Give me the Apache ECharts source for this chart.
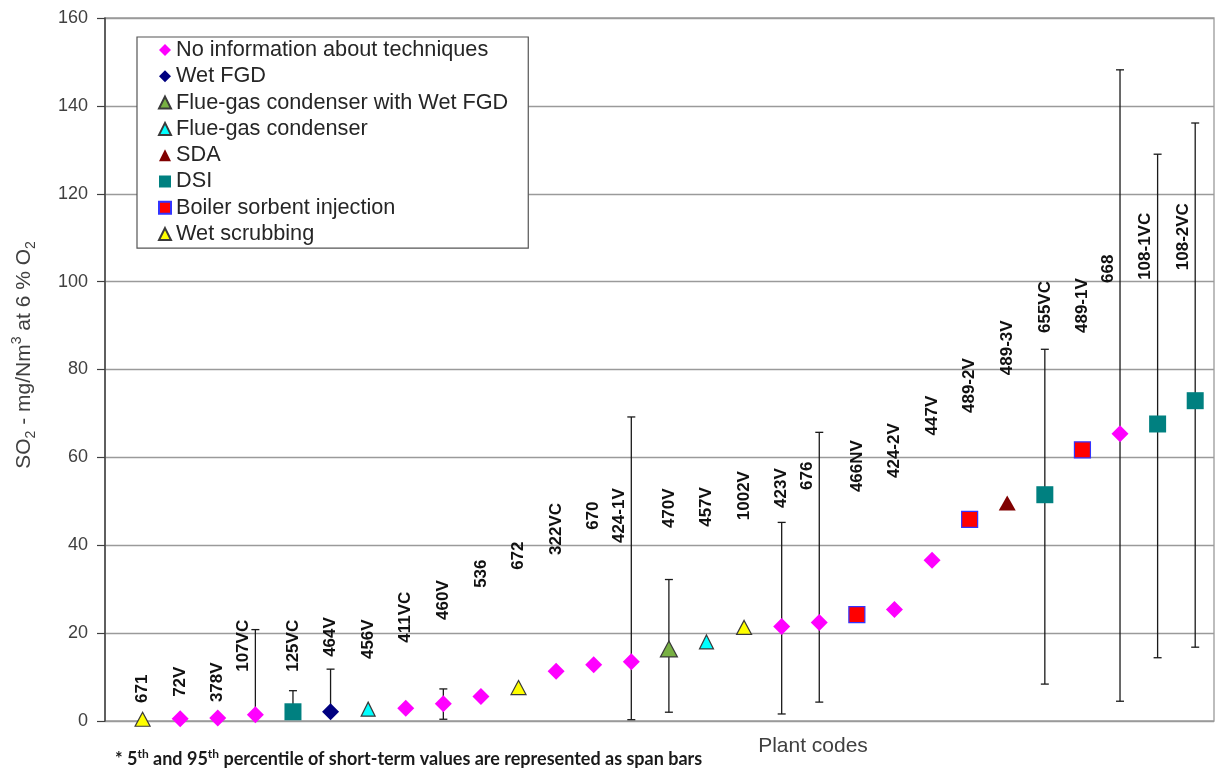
<!DOCTYPE html>
<html>
<head>
<meta charset="utf-8">
<title>SO2 emissions by plant</title>
<script src="https://cdn.jsdelivr.net/npm/echarts@6/dist/echarts.min.js"></script>
<style>
  html, body { margin: 0; padding: 0; background: #ffffff; }
  #chart { width: 1216px; height: 771px; }
</style>
</head>
<body>
<div id="chart"></div>
<script>
// Plant codes, ordered by increasing average SO2 emission
const plantCodes = ['671', '72V', '378V', '107VC', '125VC', '464V', '456V', '411VC', '460V', '536',
  '672', '322VC', '670', '424-1V', '470V', '457V', '1002V', '423V', '676', '466NV',
  '424-2V', '447V', '489-2V', '489-3V', '655VC', '489-1V', '668', '108-1VC', '108-2VC'];

// Average SO2 (mg/Nm3 at 6 % O2)
const emission = [0.4, 0.5, 0.7, 1.4, 2.1, 2.1, 2.7, 2.9, 3.9, 5.6,
  7.6, 11.3, 12.8, 13.5, 16.4, 18.0, 21.3, 21.5, 22.4, 24.2,
  25.4, 36.6, 45.9, 49.6, 51.5, 61.7, 65.4, 67.6, 72.9];

// Abatement technique of each plant (index into techniqueNames)
const techniqueNames = ['No information about techniques', 'Wet FGD', 'Flue-gas condenser with Wet FGD',
  'Flue-gas condenser', 'SDA', 'DSI', 'Boiler sorbent injection', 'Wet scrubbing'];
const technique = [7, 0, 0, 0, 5, 1, 3, 0, 0, 0,
  7, 0, 0, 0, 2, 3, 7, 0, 0, 6,
  0, 0, 6, 4, 5, 6, 0, 5, 5];

// 5th / 95th percentile of short-term values (null = no span bar)
const spanLow = [null, null, null, 1.0, 2.0, 2.0, null, null, 0.4, null,
  null, null, null, 0.3, 2.0, null, null, 1.6, 4.3, null,
  null, null, null, null, 8.4, null, 4.5, 14.4, 16.8];
const spanHigh = [null, null, null, 20.8, 6.9, 11.8, null, null, 7.3, null,
  null, null, null, 69.2, 32.2, null, null, 45.2, 65.7, null,
  null, null, null, null, 84.6, null, 148.2, 129.0, 136.1];

// Level at which each plant code label starts
const labelLevel = [4.1, 5.5, 4.3, 11.2, 11.2, 14.6, 14.1, 17.8, 23.0, 30.3,
  34.4, 37.8, 43.5, 40.5, 43.9, 44.2, 45.7, 48.5, 52.6, 52.1,
  55.3, 65.0, 70.1, 78.7, 88.3, 88.3, 99.7, 100.4, 102.6];

// Marker appearance per technique
const markerStyle = {
  'No information about techniques': { symbol: 'diamond', size: [17, 17], color: '#ff00ff' },
  'Wet FGD': { symbol: 'diamond', size: [17, 17], color: '#000080' },
  'Flue-gas condenser with Wet FGD': { symbol: 'triangle', size: [17, 16], color: '#78b043', border: '#3a3a3a' },
  'Flue-gas condenser': { symbol: 'triangle', size: [14, 14], color: '#00ffff', border: '#3a3a3a' },
  'SDA': { symbol: 'triangle', size: [17, 15], color: '#800000' },
  'DSI': { symbol: 'rect', size: [17, 17], color: '#008080' },
  'Boiler sorbent injection': { symbol: 'rect', size: [16, 16], color: '#ff0000', border: '#3333ff' },
  'Wet scrubbing': { symbol: 'triangle', size: [15, 14], color: '#ffff00', border: '#3a3a3a' }
};

const FONT = "'Liberation Sans', Arial, sans-serif";

// One scatter series per technique
const scatterSeries = techniqueNames.map(function (name, t) {
  const st = markerStyle[name];
  const pts = [];
  emission.forEach(function (v, i) {
    if (technique[i] === t) pts.push([i + 1, v]);
  });
  return {
    type: 'scatter',
    name: name,
    symbol: st.symbol,
    symbolSize: st.size,
    itemStyle: {
      color: st.color,
      borderColor: st.border || st.color,
      borderWidth: st.border ? 1.2 : 0,
      opacity: 1
    },
    z: 3,
    data: pts
  };
});

// Span bars with caps
const spanData = [];
spanHigh.forEach(function (hi, i) {
  if (hi != null) spanData.push([i + 1, spanLow[i], hi]);
});

const spanSeries = {
  type: 'custom',
  name: 'span',
  silent: true,
  z: 2,
  encode: { x: 0, y: [1, 2] },
  data: spanData,
  renderItem: function (params, api) {
    const x = api.value(0);
    const lo = api.coord([x, api.value(1)]);
    const hi = api.coord([x, api.value(2)]);
    const cap = 4;
    const stroke = { stroke: '#1a1a1a', lineWidth: 1.3 };
    return {
      type: 'group',
      children: [
        { type: 'line', shape: { x1: lo[0], y1: lo[1], x2: hi[0], y2: hi[1] }, style: stroke },
        { type: 'line', shape: { x1: lo[0] - cap, y1: lo[1], x2: lo[0] + cap, y2: lo[1] }, style: stroke },
        { type: 'line', shape: { x1: hi[0] - cap, y1: hi[1], x2: hi[0] + cap, y2: hi[1] }, style: stroke }
      ]
    };
  }
};

// Rotated plant code labels; moved aside where a span bar passes through them
const labelSeries = {
  type: 'custom',
  name: 'codes',
  silent: true,
  z: 4,
  encode: { x: 0, y: 1 },
  data: labelLevel.map(function (v, i) { return [i + 1, v]; }),
  renderItem: function (params, api) {
    const i = params.dataIndex;
    const p = api.coord([api.value(0), api.value(1)]);
    const crossed = spanHigh[i] != null && spanHigh[i] > labelLevel[i];
    return {
      type: 'text',
      x: p[0] + (crossed ? -12 : 0),
      y: p[1],
      rotation: Math.PI / 2,
      style: {
        text: plantCodes[i],
        fontSize: 17,
        fontWeight: 'bold',
        fontFamily: FONT,
        fill: '#111111',
        align: 'left',
        verticalAlign: 'middle'
      }
    };
  }
};

const chart = echarts.init(document.getElementById('chart'), null, { renderer: 'canvas' });

chart.setOption({
  animation: false,
  backgroundColor: '#ffffff',
  grid: {
    left: 105, right: 2, top: 18, bottom: 50,
    show: true, borderColor: '#9a9a9a', borderWidth: 1.3, backgroundColor: 'transparent'
  },
  xAxis: {
    type: 'value', min: 0, max: 29.5,
    axisLine: { show: false }, axisTick: { show: false },
    axisLabel: { show: false }, splitLine: { show: false }
  },
  yAxis: {
    type: 'value', min: 0, max: 160, interval: 20,
    axisLine: { show: true, lineStyle: { color: '#404040', width: 1.5 } },
    axisTick: { show: true, length: 8, lineStyle: { color: '#404040', width: 1.2 } },
    axisLabel: { fontSize: 18, color: '#404040', fontFamily: FONT, margin: 17 },
    splitLine: { show: true, lineStyle: { color: '#9a9a9a', width: 1.3 } }
  },
  legend: {
    data: techniqueNames,
    orient: 'vertical',
    left: 137, top: 37,
    padding: [0, 20, 1, 21],
    itemWidth: 12, itemHeight: 12, itemGap: 0.3,
    borderColor: '#555555', borderWidth: 1.2,
    backgroundColor: '#ffffff',
    textStyle: { fontSize: 21.7, lineHeight: 26, color: '#262626', fontFamily: FONT },
    selectedMode: false
  },
  graphic: [
    {
      type: 'text', x: 24, y: 355, rotation: Math.PI / 2, silent: true,
      style: {
        text: '{b|SO}{sub|2}{b| - mg/Nm}{sup|3}{b| at 6 % O}{sub|2}',
        align: 'center', verticalAlign: 'middle',
        fill: '#404040', fontFamily: FONT,
        rich: {
          b: { fontSize: 21, lineHeight: 28, fill: '#404040', fontFamily: FONT },
          sub: { fontSize: 14, lineHeight: 14, verticalAlign: 'bottom', fill: '#404040', fontFamily: FONT },
          sup: { fontSize: 14, lineHeight: 14, verticalAlign: 'top', fill: '#404040', fontFamily: FONT }
        }
      }
    },
    {
      type: 'text', x: 813, y: 746, silent: true,
      style: {
        text: 'Plant codes', align: 'center', verticalAlign: 'middle',
        fontSize: 21, fill: '#404040', fontFamily: FONT
      }
    },
    {
      type: 'text', x: 115, y: 759, silent: true,
      style: {
        text: '{b|* 5}{sup|th}{b| and 95}{sup|th}{b| percentile of short-term values are represented as span bars}',
        align: 'left', verticalAlign: 'middle',
        fill: '#1a1a1a', fontFamily: 'Lato, sans-serif', fontWeight: 'bold',
        rich: {
          b: { fontSize: 18, lineHeight: 22, fontWeight: 'bold', fill: '#1a1a1a', fontFamily: 'Lato, sans-serif' },
          sup: { fontSize: 12, lineHeight: 14, verticalAlign: 'top', fontWeight: 'bold', fill: '#1a1a1a', fontFamily: 'Lato, sans-serif' }
        }
      }
    }
  ],
  series: [spanSeries].concat(scatterSeries, [labelSeries])
});
</script>
</body>
</html>
